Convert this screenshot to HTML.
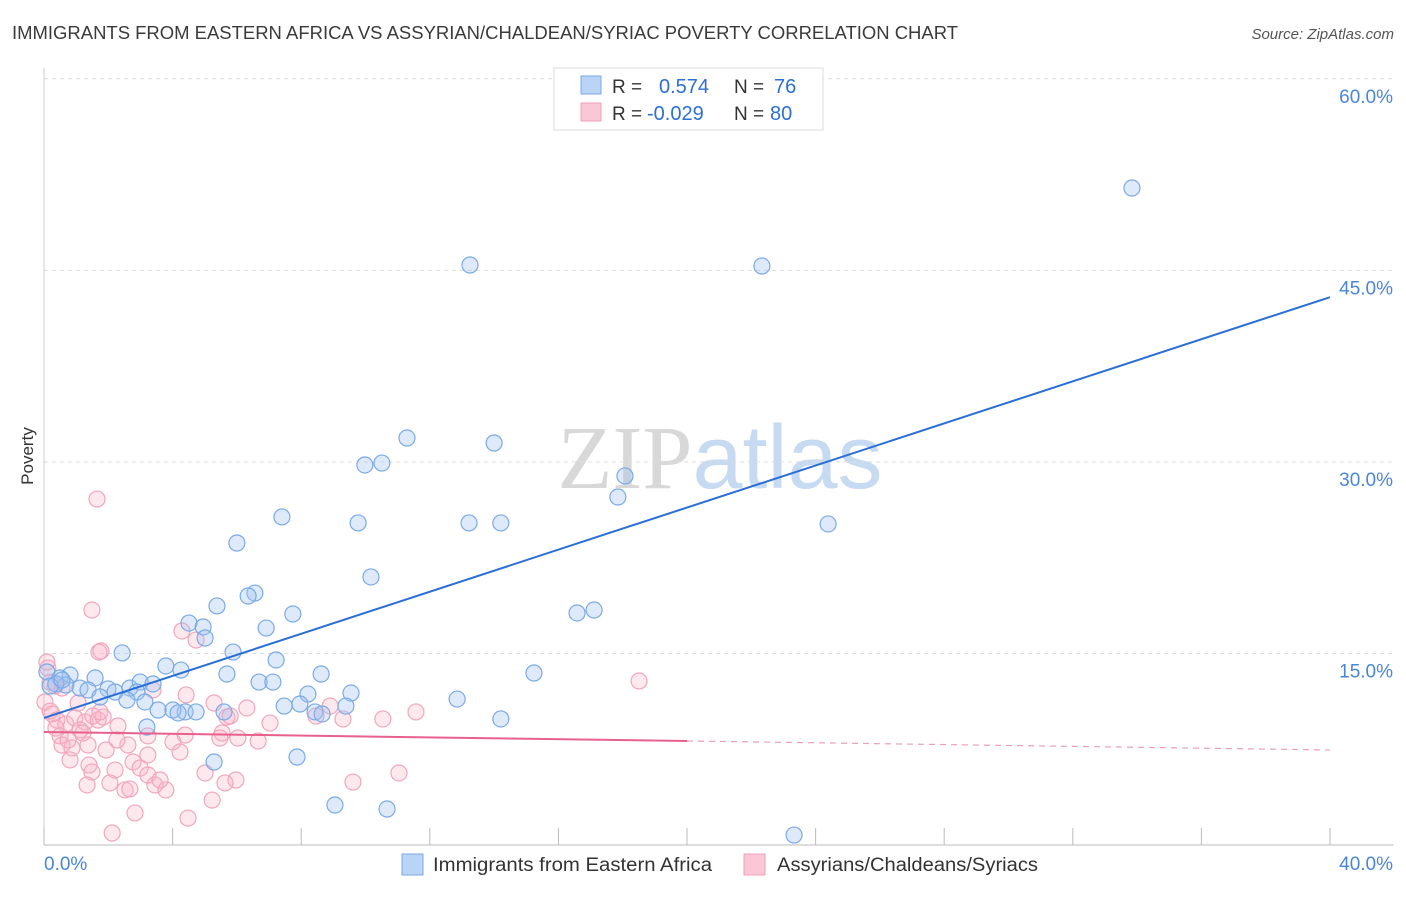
<!DOCTYPE html>
<html><head><meta charset="utf-8"><style>
body{margin:0;background:#fff;font-family:"Liberation Sans",sans-serif;}
</style></head><body>
<svg id="chart" width="1406" height="892" xmlns="http://www.w3.org/2000/svg" font-family="Liberation Sans, sans-serif">
<text x="12" y="39" font-size="18" fill="#3a3a3a" textLength="946" lengthAdjust="spacingAndGlyphs">IMMIGRANTS FROM EASTERN AFRICA VS ASSYRIAN/CHALDEAN/SYRIAC POVERTY CORRELATION CHART</text>
<text x="1394" y="39" font-size="15" fill="#555" text-anchor="end" font-style="italic">Source: ZipAtlas.com</text>
<text x="720" y="488" font-size="90" text-anchor="middle"><tspan fill="#d8d8d8" font-family="Liberation Serif, serif">ZIP</tspan><tspan fill="#c6daf2">atlas</tspan></text>
<g id="grid"></g><g id="axes"></g><g id="pink"></g><g id="blue"></g><g id="lines"></g>
<text transform="translate(33,456) rotate(-90)" font-size="17" fill="#333" text-anchor="middle">Poverty</text>
<g>
<rect x="554" y="68" width="269" height="62" fill="#fff" stroke="#ddd"/>
<rect x="581" y="76" width="20" height="18" fill="#b9d4f5" stroke="#7aaae6"/>
<rect x="581" y="103" width="20" height="18" fill="#f9c7d6" stroke="#f0a0b8"/>
<text x="612" y="93" font-size="19" fill="#333">R =</text>
<text x="659" y="93" font-size="20" fill="#2c6fd6">0.574</text>
<text x="734" y="93" font-size="19" fill="#333">N =</text>
<text x="774" y="93" font-size="20" fill="#2c6fd6">76</text>
<text x="612" y="120" font-size="19" fill="#333">R =</text>
<text x="647" y="120" font-size="20" fill="#2c6fd6">-0.029</text>
<text x="734" y="120" font-size="19" fill="#333">N =</text>
<text x="770" y="120" font-size="20" fill="#2c6fd6">80</text>
</g>
<g>
<rect x="402" y="854" width="21" height="21" fill="#b9d4f5" stroke="#7aaae6"/>
<text x="433" y="871" font-size="19" fill="#333" textLength="279" lengthAdjust="spacingAndGlyphs">Immigrants from Eastern Africa</text>
<rect x="744" y="854" width="21" height="21" fill="#f9c7d6" stroke="#f0a0b8"/>
<text x="777" y="871" font-size="19" fill="#333" textLength="261" lengthAdjust="spacingAndGlyphs">Assyrians/Chaldeans/Syriacs</text>
</g>
</svg>
<script>
const blueX=[33.84,13.25,22.33,11.29,14.0,9.98,10.51,18.07,17.85,7.40,9.77,13.22,14.21,24.39,6.0,10.17,6.56,6.35,16.58,17.11,7.74,5.38,4.51,4.95,6.91,5.01,2.43,5.88,3.79,4.26,7.22,15.24,8.62,5.69,0.09,0.5,0.81,1.59,0.68,1.12,1.37,1.99,2.21,2.67,2.99,3.39,2.89,1.74,2.58,3.14,6.69,7.12,9.55,8.21,3.55,4.39,4.01,4.17,4.73,5.6,7.47,7.96,8.43,8.65,9.39,12.85,14.21,3.2,5.29,7.87,9.05,10.67,23.33,0.37,0.19,0.56];
const blueY=[51.45,45.42,45.34,31.87,31.48,29.76,29.91,28.9,27.25,25.69,25.22,25.22,25.22,25.14,23.65,20.99,19.73,19.5,18.17,18.4,18.09,18.72,17.38,17.07,16.99,16.21,15.04,15.11,14.02,13.7,14.49,13.47,13.39,13.39,13.55,13.08,13.31,13.08,12.53,12.29,12.14,12.22,11.98,12.29,12.76,12.61,11.98,11.59,11.35,11.2,12.76,12.76,11.9,11.82,10.57,10.42,10.57,10.34,10.42,10.42,10.88,11.04,10.42,10.26,10.88,11.43,9.87,9.24,6.5,6.89,3.13,2.82,0.78,12.61,12.45,12.92];
const pinkX=[1.65,1.49,1.77,1.71,4.29,4.73,18.51,0.19,0.34,0.56,0.12,0.09,4.42,5.29,3.39,5.69,6.31,7.03,8.46,8.9,9.3,10.54,11.57,0.25,0.4,0.68,0.96,1.28,1.52,1.68,1.84,2.3,1.12,0.56,0.87,1.37,1.93,2.61,3.23,4.39,4.01,5.54,6.03,6.66,2.27,0.81,1.4,1.49,2.21,2.77,2.99,3.23,5.01,5.97,1.34,2.05,2.52,2.67,3.45,3.79,5.63,9.61,11.04,5.23,2.83,4.48,2.12,0.37,0.5,0.75,1.06,1.21,0.03,0.19,1.74,5.79,5.47,4.23,3.23,3.61];
const pinkY=[27.09,18.4,15.19,15.11,16.76,16.05,12.84,12.76,12.45,12.29,13.86,14.33,11.75,11.12,12.14,10.02,10.73,9.55,10.1,10.88,9.87,9.87,10.42,10.26,9.79,9.48,9.95,9.63,10.1,9.79,10.02,9.32,9.01,7.83,7.6,7.83,7.44,7.83,8.54,8.61,8.07,8.77,8.38,8.14,8.22,6.66,6.26,5.72,5.87,6.5,6.03,5.48,5.64,5.09,4.7,4.86,4.31,4.39,4.7,4.31,4.86,4.93,5.64,3.52,2.51,2.11,0.94,9.16,8.54,8.22,11.12,8.77,11.2,10.49,10.42,10.1,8.38,7.28,7.05,5.09];
const yTicks=[15,30,45,60];
const yTickLabels=["15.0%","30.0%","45.0%","60.0%"];
const xTicks=[0,4,8,12,16,20,24,28,32,36,40];
const blueFit=[9.95,42.9];
const pinkFit=[8.85,7.44];
const NS="http://www.w3.org/2000/svg";
const sx=v=>44+v/40*1286;
const sy=v=>845-v*12.77;
function mk(parent,tag,attrs){const e=document.createElementNS(NS,tag);for(const k in attrs)e.setAttribute(k,attrs[k]);document.getElementById(parent).appendChild(e);return e;}
yTicks.forEach((t,i)=>{
 const g=mk('grid','line',{x1:44,x2:1394,y1:sy(t),y2:sy(t),stroke:'#ddd','stroke-dasharray':'4,4'});
 
 
 const l=mk('axes','text',{x:1393,y:sy(t)+24,'font-size':19,fill:'#4a86d8','text-anchor':'end'});
 l.textContent=yTickLabels[i];
 
 
});
const ax=mk('axes','line',{x1:44,x2:1394,y1:845,y2:845,stroke:'#bbb'});


const ay=mk('axes','line',{x1:44,x2:44,y1:68,y2:845,stroke:'#ccc'});


xTicks.forEach(t=>{const tk=mk('axes','line',{x1:sx(t),x2:sx(t),y1:828,y2:845,stroke:'#bbb'});
 
 });
const xl0=mk('axes','text',{x:44,y:870,'font-size':19,fill:'#4a86d8'});xl0.textContent=xTicks[0].toFixed(1)+'%';


const xl1=mk('axes','text',{x:1393,y:870,'font-size':19,fill:'#4a86d8','text-anchor':'end'});xl1.textContent=xTicks[xTicks.length-1].toFixed(1)+'%';


pinkX.forEach((x,i)=>{const c=mk('pink','circle',{cx:sx(x),cy:sy(pinkY[i]),r:8,fill:'rgba(248,180,200,0.3)',stroke:'#f0a6bd','stroke-width':1.2});
 
 });
blueX.forEach((x,i)=>{const c=mk('blue','circle',{cx:sx(x),cy:sy(blueY[i]),r:8,fill:'rgba(160,196,240,0.35)',stroke:'#7aaae6','stroke-width':1.2});
 
 });
const bl=mk('lines','line',{x1:sx(0),y1:sy(blueFit[0]),x2:sx(40),y2:sy(blueFit[1]),stroke:'#2a6fd8','stroke-width':2});


const pm=(pinkFit[0]+pinkFit[1])/2;
const pl=mk('lines','line',{x1:sx(0),y1:sy(pinkFit[0]),x2:sx(20),y2:sy(pm),stroke:'#e8608c','stroke-width':2});


const pd=mk('lines','line',{x1:sx(20),y1:sy(pm),x2:sx(40),y2:sy(pinkFit[1]),stroke:'#e8a0b8','stroke-width':1.2,'stroke-dasharray':'6,5'});


</script>
</body></html>
